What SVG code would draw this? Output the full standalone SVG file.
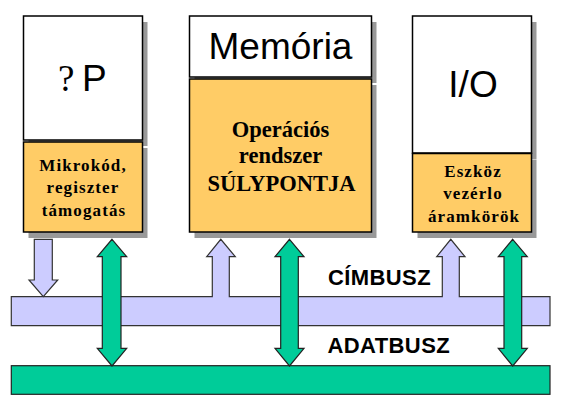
<svg xmlns="http://www.w3.org/2000/svg" width="564" height="414" viewBox="0 0 564 414">
<defs>
<style>
.shadow{fill:#999999;}
.top{fill:#ffffff;stroke:#000;stroke-width:1.5;}
.bot{fill:#ffcc66;stroke:#000;stroke-width:1.5;}
.big{font-family:"Liberation Sans",Arial,sans-serif;font-size:37px;fill:#000;}
.ser{font-family:"Liberation Serif","Times New Roman",serif;font-weight:bold;fill:#000;text-anchor:middle;}
.small{font-size:17px;letter-spacing:1.1px;}
.mid{font-size:22.5px;}
.addr{fill:#ccccff;stroke:#333;stroke-width:1.2;stroke-linejoin:miter;}
.data{fill:#00cc99;stroke:#222;stroke-width:1.2;stroke-linejoin:miter;}
.lbl{font-family:"Liberation Sans",Arial,sans-serif;font-weight:bold;font-size:22px;fill:#000;letter-spacing:0.4px;}
</style>
</defs>
<rect width="564" height="414" fill="#ffffff"/>
<g id="cpu">
<rect class="shadow" x="28.5" y="22" width="119" height="124"/>
<rect class="shadow" x="28.5" y="148" width="119" height="90"/>
<rect class="top" x="23.5" y="16" width="119" height="124"/>
<rect class="bot" x="23.5" y="142" width="119" height="90"/>
<text class="big" x="58" y="90.5" font-family="Liberation Serif,serif" style="font-family:'Liberation Serif','Times New Roman',serif">?</text>
<text class="big" x="82" y="90.5">P</text>
<text class="ser small" x="83" y="170.7">Mikrokód,</text>
<text class="ser small" x="83" y="193.3">regiszter</text>
<text class="ser small" x="84" y="216">támogatás</text>
</g>
<g id="memoria">
<rect class="shadow" x="194.5" y="22" width="182" height="61"/>
<rect class="shadow" x="194.5" y="85" width="182" height="153"/>
<rect class="top" x="189.5" y="16" width="182" height="61"/>
<rect class="bot" x="189.5" y="79" width="182" height="153"/>
<text class="big" x="280.5" y="59" text-anchor="middle">Memória</text>
<text class="ser mid" x="280.5" y="136.7">Operációs</text>
<text class="ser mid" x="280.5" y="163.3">rendszer</text>
<text class="ser mid" x="281.5" y="191">SÚLYPONTJA</text>
</g>
<g id="io">
<rect class="shadow" x="417.5" y="22" width="119" height="137"/>
<rect class="shadow" x="417.5" y="159.5" width="119" height="78.5"/>
<rect class="top" x="412.5" y="16" width="119" height="137"/>
<rect class="bot" x="412.5" y="153.5" width="119" height="78.5"/>
<text class="big" x="473" y="96.7" text-anchor="middle">I/O</text>
<text class="ser small" x="473" y="176.7">Eszköz</text>
<text class="ser small" x="473" y="199.3">vezérlo</text>
<text class="ser small" x="474" y="221.7">áramkörök</text>
</g>
<g id="connectors">
<path id="cimbusz" class="addr" d="M11.3,296.7 H212.3 V256.7 H206.7 L220.8,239.3 L235.3,256.7 H229.3 V296.7 H442.3 V256.7 H436.7 L450.8,239.3 L465,256.7 H459.3 V296.7 H550 V325.7 H11.3 Z"/>
<path class="addr" d="M34.3,239.3 H52.3 V280 H57.7 L43.3,296.7 L29,280 H34.3 Z"/>
<rect id="adatbusz" class="data" x="11.3" y="365.7" width="538.7" height="28.6"/>
<path class="data" d="M112,239.3 L126.7,256.7 H121 V348.3 H126.7 L112,366 L97.3,348.3 H102.3 V256.7 H97.3 Z"/>
<path class="data" d="M289.5,239.3 L304,256.7 H298.3 V348.3 H304 L289.5,366 L275,348.3 H280.7 V256.7 H275 Z"/>
<path class="data" d="M512.7,239.3 L527.3,256.7 H521.7 V348.3 H527.3 L512.7,366 L498.3,348.3 H504 V256.7 H498.3 Z"/>
</g>
<text class="lbl" x="328" y="285">CÍMBUSZ</text>
<text class="lbl" x="327.5" y="353.3">ADATBUSZ</text>
</svg>
